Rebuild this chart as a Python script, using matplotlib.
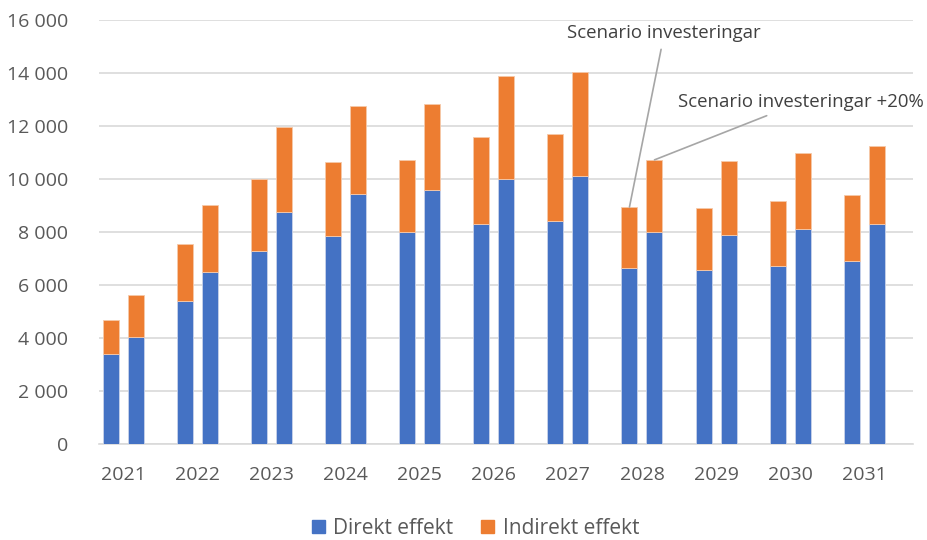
import numpy as np
import matplotlib.pyplot as plt
from matplotlib.patches import Patch

years = ["2021", "2022", "2023", "2024", "2025", "2026",
         "2027", "2028", "2029", "2030", "2031"]

# scenario investeringar (first bar in each year)
direkt_base = [3380, 5410, 7290, 7860, 8000, 8310, 8430, 6650, 6580, 6730, 6920]
total_base = [4680, 7550, 10000, 10640, 10710, 11580, 11710, 8940, 8910, 9160, 9380]

# scenario investeringar +20% (second bar in each year)
direkt_plus = [4050, 6500, 8750, 9450, 9600, 9990, 10120, 7990, 7900, 8100, 8300]
total_plus = [5620, 9020, 11960, 12750, 12820, 13890, 14040, 10720, 10690, 10980, 11260]

indirekt_base = [t - d for t, d in zip(total_base, direkt_base)]
indirekt_plus = [t - d for t, d in zip(total_plus, direkt_plus)]

BLUE = "#4472C4"
ORANGE = "#ED7D31"
TEXT = "#595959"

plt.rcParams['font.family'] = ['Open Sans', 'DejaVu Sans']

fig = plt.figure(figsize=(9.27, 5.4), dpi=100)
ax = fig.add_axes([0.1068, 0.178, 0.8782, 0.785])

x = np.arange(len(years))
w = 0.216
off = 0.169
edge = dict(edgecolor="#C9D3EA", linewidth=0.6)

ax.bar(x - off, direkt_base, w, color=BLUE, **edge, zorder=3)
ax.bar(x - off, indirekt_base, w, bottom=direkt_base, color=ORANGE,
       edgecolor="#F6C9AA", linewidth=0.6, zorder=3)
ax.bar(x + off, direkt_plus, w, color=BLUE, **edge, zorder=3)
ax.bar(x + off, indirekt_plus, w, bottom=direkt_plus, color=ORANGE,
       edgecolor="#F6C9AA", linewidth=0.6, zorder=3)

ax.set_xlim(-0.33, 10.66)
ax.set_ylim(0, 16000)
yt = np.arange(0, 16001, 2000)
ax.set_yticks(yt)
ax.set_yticklabels([f"{v:,}".replace(",", " ") for v in yt])
ax.set_xticks(x)
ax.set_xticklabels(years)
ax.yaxis.grid(True, color="#D9D9D9", linewidth=1.2, zorder=0)
ax.tick_params(axis="both", length=0, labelsize=14, colors=TEXT)
ax.tick_params(axis="y", pad=22)
ax.tick_params(axis="x", pad=16)
for s in ["top", "right", "left"]:
    ax.spines[s].set_visible(False)
ax.spines["bottom"].set_color("#D9D9D9")
ax.spines["bottom"].set_linewidth(1.2)

# callout labels for the two scenarios (2028 bars)
i = years.index("2028")
ax.annotate("Scenario investeringar", xy=(x[i] - off, total_base[i]),
            xytext=(x[i] - off + 0.47, 15150), textcoords="data",
            ha="center", va="bottom", fontsize=13.4, color="#404040",
            annotation_clip=False,
            arrowprops=dict(arrowstyle="-", color="#A6A6A6", lw=1.2,
                            shrinkA=3, shrinkB=0))
ax.annotate("Scenario investeringar +20%", xy=(x[i] + off, total_plus[i]),
            xytext=(9.14, 12550), textcoords="data",
            ha="center", va="bottom", fontsize=13.4, color="#404040",
            annotation_clip=False,
            arrowprops=dict(arrowstyle="-", color="#A6A6A6", lw=1.2,
                            shrinkA=3, shrinkB=0))

handles = [Patch(color=BLUE, label="Direkt effekt"),
           Patch(color=ORANGE, label="Indirekt effekt")]
fig.legend(handles=handles, loc="lower center", bbox_to_anchor=(0.513, -0.033),
           ncol=2, frameon=False, fontsize=15, labelcolor=TEXT,
           handlelength=0.62, handleheight=0.62, handletextpad=0.4,
           columnspacing=1.35)

fig.savefig("out.png", dpi=100)
